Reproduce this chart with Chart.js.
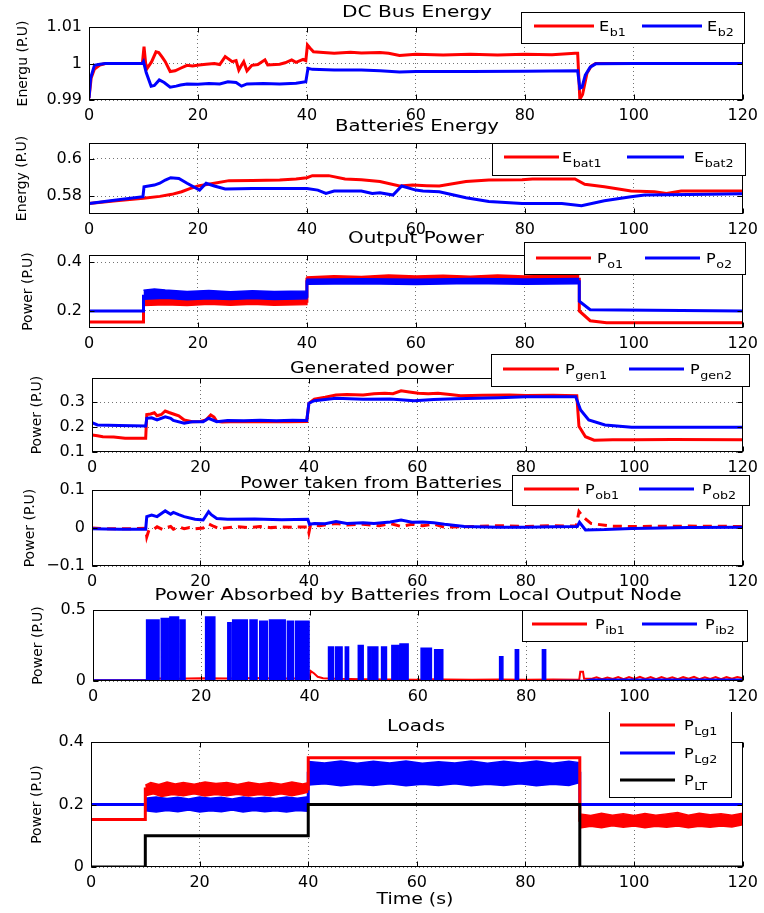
<!DOCTYPE html>
<html>
<head>
<meta charset="utf-8">
<script src="https://cdn.jsdelivr.net/npm/chart.js@4.4.1/dist/chart.umd.min.js"></script>
<style>
  body { margin: 0; background: #fff; }
  #wrap { position: relative; width: 764px; height: 913px; }
  #wrap canvas { position: absolute; left: 0; }
</style>
</head>
<body>
<div id="wrap"></div>
<script>
'use strict';

// ---- data: [time (s), value] ----
let xTicks = [0, 20, 40, 60, 80, 100, 120];
let xTickLabels = ['0', '20', '40', '60', '80', '100', '120'];

// DC bus energy
let eb1 = [[0,0.9905],[0.4,0.996],[1,0.9985],[2,0.9996],[3,1.0],[9.8,1.0],[10.1,1.0046],[10.4,1.0],[10.7,0.9987],[11.5,1.0005],[12.3,1.0032],[12.8,1.003],[13.4,1.0018],[14,1.0005],[14.9,0.9978],[15.8,0.998],[16.8,0.9987],[18,0.9995],[19,0.9993],[20.2,0.9996],[21.5,0.9998],[23,1.0],[24,0.9997],[25,1.0019],[26.3,1.0005],[27,1.0008],[27.5,0.9982],[28,0.9995],[28.4,1.0005],[29,0.998],[29.9,0.9995],[31,0.9997],[32.3,1.001],[32.8,0.9996],[35,0.9998],[36,1.0002],[37.2,1.001],[38,1.0003],[39.3,1.0011],[39.8,1.0008],[40.1,1.0051],[40.6,1.0042],[41.2,1.0032],[43,1.003],[45,1.0028],[48,1.0031],[50,1.0029],[53.4,1.003],[55,1.0028],[57,1.0022],[60,1.0025],[65,1.0023],[70,1.0025],[75,1.0023],[80,1.0025],[85,1.0024],[89.2,1.0028],[89.7,1.0028],[90.1,0.9902],[90.6,0.9915],[91.4,0.9973],[92.2,0.9993],[93,1.0],[100,1.0],[120,1.0]];
let eb2 = [[0,0.9905],[0.3,0.996],[1,0.9995],[2,0.9998],[3,1.0],[9.8,1.0],[10,1.0005],[10.5,0.9975],[11.4,0.9938],[12,0.994],[12.9,0.9955],[13.8,0.9948],[14.9,0.9935],[16,0.9938],[16.8,0.9941],[18,0.9944],[20,0.9943],[22,0.9945],[24,0.9944],[25.5,0.995],[27,0.9948],[28,0.9938],[29,0.9944],[32,0.9945],[35,0.9944],[38,0.9946],[39.8,0.995],[40.2,0.9987],[41,0.9984],[45,0.9982],[50,0.9982],[53.4,0.998],[57,0.9977],[60,0.9978],[70,0.9978],[80,0.9979],[89.7,0.998],[90.1,0.9932],[90.5,0.9935],[91.1,0.9968],[92,0.999],[93,0.9999],[100,1.0],[120,1.0]];

// batteries energy
let ebat1 = [[0,0.576],[5,0.5774],[10,0.5788],[13,0.5798],[15.2,0.5809],[17,0.5823],[18.5,0.584],[20,0.5854],[23,0.5869],[25.7,0.5883],[30,0.5884],[35,0.5886],[38,0.5892],[40,0.5899],[41,0.591],[44,0.591],[47,0.5892],[50,0.5888],[53.4,0.5878],[57,0.5854],[59.4,0.5859],[62,0.5856],[64.3,0.5854],[69.2,0.5878],[73.4,0.5886],[79.5,0.5888],[81.4,0.5892],[89.2,0.5892],[91,0.5863],[94.6,0.585],[99.5,0.5827],[103.8,0.5823],[106,0.5814],[108.7,0.5827],[120,0.5827]];
let ebat2 = [[0,0.576],[5,0.5778],[9.9,0.5796],[10.1,0.585],[12,0.5859],[13,0.5869],[14,0.5886],[15,0.5899],[16.5,0.5895],[18,0.5869],[20.3,0.5832],[21.5,0.5869],[23,0.5854],[25,0.5838],[30,0.5841],[35,0.5841],[40,0.5841],[42,0.5832],[43.5,0.5814],[45,0.5827],[50,0.5827],[52,0.5814],[53.4,0.5818],[55.8,0.5805],[57.4,0.5854],[60,0.5832],[61.3,0.5827],[64.3,0.5823],[69.2,0.5791],[73.4,0.577],[79.5,0.576],[86.8,0.576],[90.4,0.5748],[94.6,0.5774],[99.5,0.5796],[102,0.5805],[114,0.5809],[120,0.5812]];

// output power (line + noisy bands)
let po1 = [[0,0.155],[10,0.155],[10,0.24],[40,0.24],[40,0.33],[90,0.33],[90,0.2],[92,0.16],[95,0.152],[120,0.152]];
let po1Hi = [[10,0.262],[12,0.258],[14,0.264],[16,0.255],[18,0.252],[22,0.258],[26,0.254],[30,0.258],[34,0.255],[40,0.258],[40,0.34],[45,0.345],[50,0.342],[55,0.348],[60,0.344],[65,0.347],[70,0.343],[75,0.348],[80,0.344],[85,0.347],[90,0.345]];
let po1Lo = [[10,0.222],[14,0.226],[18,0.222],[22,0.228],[26,0.224],[30,0.228],[34,0.223],[40,0.226],[40,0.318],[45,0.322],[50,0.318],[55,0.324],[60,0.32],[65,0.323],[70,0.319],[75,0.324],[80,0.32],[85,0.323],[90,0.32]];
let po2 = [[0,0.2],[10,0.2],[10,0.26],[40,0.26],[40,0.32],[90,0.32],[90,0.24],[92,0.205],[120,0.2]];
let po2Hi = [[10,0.285],[12,0.29],[14,0.286],[16,0.283],[18,0.28],[22,0.284],[26,0.279],[30,0.283],[34,0.28],[40,0.282],[40,0.33],[50,0.332],[60,0.33],[70,0.333],[80,0.331],[90,0.333]];
let po2Lo = [[10,0.248],[14,0.252],[18,0.246],[22,0.25],[26,0.247],[30,0.251],[34,0.247],[40,0.25],[40,0.31],[50,0.312],[60,0.309],[70,0.313],[80,0.31],[90,0.312]];

// generated power
let pgen1 = [[0,0.168],[1,0.165],[2,0.161],[4,0.16],[6.1,0.155],[9.9,0.155],[10.1,0.25],[10.8,0.252],[11.5,0.257],[12,0.245],[12.8,0.25],[13.5,0.264],[14.2,0.258],[15,0.252],[16,0.245],[17,0.228],[18.5,0.221],[20,0.222],[21,0.228],[21.9,0.248],[22.5,0.24],[23,0.223],[24,0.22],[27,0.222],[30,0.221],[33,0.222],[36,0.221],[39.6,0.222],[40,0.295],[41,0.311],[43,0.319],[45,0.328],[47,0.33],[50,0.328],[52,0.333],[54,0.335],[55.5,0.333],[57,0.345],[58.5,0.34],[60.2,0.335],[62,0.333],[63.8,0.335],[66,0.33],[68,0.325],[72,0.327],[77,0.328],[80,0.326],[85,0.327],[89.4,0.325],[89.8,0.203],[91,0.161],[92.6,0.147],[96,0.149],[100,0.149],[107,0.15],[120,0.149]];
let pgen2 = [[0,0.217],[1,0.208],[5,0.206],[9.9,0.204],[10.1,0.235],[11,0.237],[12,0.228],[13.5,0.241],[14.5,0.235],[15,0.226],[17,0.215],[18.5,0.221],[20.5,0.221],[21.5,0.235],[23,0.221],[25,0.226],[28,0.225],[31,0.227],[34,0.225],[37,0.227],[39.6,0.226],[40,0.295],[41,0.305],[43,0.31],[45,0.315],[50,0.311],[55,0.312],[59.4,0.305],[63,0.31],[67,0.313],[71,0.315],[75,0.317],[80,0.321],[85,0.321],[89.2,0.321],[90.1,0.268],[91.6,0.228],[94.6,0.208],[99.5,0.199],[120,0.199]];

// power taken from batteries
let pob1 = [[0,0.0],[3,-0.002],[6,-0.002],[9.9,-0.001],[10.1,-0.023],[10.5,-0.005],[11.5,-0.002],[12,0.003],[13,-0.004],[13.5,0.0],[14.5,0.004],[15,-0.003],[16,0.003],[17,-0.002],[18,0.001],[19,-0.002],[20.5,0.0],[21.5,0.011],[22.5,0.004],[23.5,-0.002],[25,0.001],[27,0.003],[29,0.001],[31,0.004],[33,0.001],[35,0.003],[37,0.002],[39.8,0.003],[40,-0.012],[40.3,0.008],[42,0.006],[45,0.012],[47,0.008],[50,0.01],[53,0.006],[55,0.012],[57,0.004],[59,0.01],[61,0.006],[63,0.01],[65,0.002],[70,0.004],[75,0.006],[80,0.004],[85,0.006],[89.3,0.005],[89.8,0.043],[90.5,0.03],[92,0.012],[95.7,0.005],[100,0.004],[110,0.005],[120,0.004]];
let pob2 = [[0,-0.002],[5,-0.003],[9.9,-0.003],[10.1,0.03],[11,0.034],[12,0.03],[13,0.04],[13.5,0.045],[14.5,0.036],[15,0.041],[16,0.035],[17,0.03],[19,0.023],[20.5,0.021],[21.5,0.043],[22,0.035],[23,0.025],[25,0.023],[30,0.024],[35,0.022],[39.8,0.023],[40.1,0.01],[41,0.012],[43,0.011],[45,0.017],[47,0.012],[50,0.014],[52,0.012],[55,0.016],[57,0.021],[59,0.015],[61,0.016],[63,0.014],[65,0.01],[68.7,0.004],[75,0.002],[80,0.002],[85,0.003],[89.5,0.004],[89.9,0.015],[91,-0.005],[94.6,-0.004],[99.5,-0.001],[110,0.001],[120,0.002]];

// power absorbed by batteries: bursts of Pib2 [start, end, height]
let pib2Start = [9.9, 12.6, 14.2, 16.1, 20.8, 24.9, 25.8, 29.0, 30.8, 32.6, 35.9, 37.4, 43.5, 44.8, 46.6, 49.0, 50.8, 51.7, 53.3, 55.2, 56.7, 60.6, 63.1, 75.1, 78.0, 83.0];
let pib2End   = [12.2, 14.0, 15.8, 17.0, 22.5, 25.5, 28.5, 30.3, 32.2, 35.5, 37.0, 39.9, 44.4, 46.0, 47.2, 49.9, 51.5, 52.6, 54.2, 56.5, 58.2, 62.5, 64.6, 75.7, 78.6, 83.6];
let pib2Top   = [0.43, 0.44, 0.45, 0.43, 0.45, 0.41, 0.43, 0.43, 0.42, 0.43, 0.42, 0.42, 0.24, 0.24, 0.24, 0.25, 0.24, 0.24, 0.24, 0.25, 0.26, 0.23, 0.22, 0.17, 0.22, 0.22];
let pib1 = [[0,0.006],[9.9,0.006],[10,0.02],[15,0.016],[20,0.02],[25,0.017],[30,0.021],[35,0.018],[40,0.02],[40.2,0.07],[40.8,0.055],[41.5,0.03],[42.5,0.02],[45,0.015],[50,0.012],[55,0.01],[60,0.008],[63,0.012],[65,0.01],[70,0.008],[75,0.011],[80,0.009],[85,0.011],[89.8,0.009],[90,0.065],[90.5,0.065],[90.7,0.015],[92,0.015],[93,0.026],[94,0.012],[95,0.025],[96,0.014],[97,0.028],[98,0.013],[99,0.027],[100,0.015],[101,0.03],[102,0.014],[103,0.027],[104,0.013],[105,0.028],[106,0.015],[107,0.026],[108,0.012],[109,0.027],[110,0.016],[111,0.029],[112,0.013],[113,0.026],[114,0.015],[115,0.028],[116,0.012],[117,0.027],[118,0.016],[119,0.028],[120,0.02]];

// loads
let plt = [[0,0],[10,0],[10,0.1],[40,0.1],[40,0.2],[90,0.2],[90,0],[120,0]];
let plg1 = [[0,0.152],[10,0.152],[10,0.25],[40,0.25],[40,0.35],[90,0.35],[90,0.15],[120,0.15]];
let plg1HiA = [[10,0.262],[11,0.27],[12.5,0.264],[14,0.272],[15.5,0.266],[17,0.27],[19,0.265],[21,0.272],[23,0.267],[25,0.27],[27,0.264],[29,0.271],[31,0.266],[33,0.27],[35,0.265],[37,0.272],[39,0.266],[40,0.27]];
let plg1LoA = [[10,0.228],[11.5,0.234],[13,0.226],[15,0.232],[17,0.228],[19,0.234],[21,0.227],[23,0.232],[25,0.228],[27,0.233],[29,0.227],[31,0.232],[33,0.228],[35,0.234],[37,0.228],[39,0.235],[40,0.24]];
let plg1HiB = [[90,0.17],[92,0.165],[94,0.172],[96,0.166],[98,0.17],[100,0.165],[102,0.171],[104,0.166],[106,0.17],[108,0.174],[110,0.166],[112,0.172],[114,0.167],[116,0.17],[118,0.166],[120,0.172]];
let plg1LoB = [[90,0.125],[92,0.13],[94,0.126],[96,0.132],[98,0.127],[100,0.131],[102,0.126],[104,0.13],[106,0.127],[108,0.131],[110,0.126],[112,0.13],[114,0.127],[116,0.131],[118,0.128],[120,0.135]];
let plg2 = [[0,0.2],[10,0.2],[40,0.2],[40,0.3],[90,0.3],[90,0.2],[120,0.2]];
let plg2HiA = [[10,0.22],[12,0.224],[14,0.219],[16,0.223],[18,0.218],[20,0.224],[22,0.22],[24,0.223],[26,0.218],[28,0.224],[30,0.22],[32,0.223],[34,0.219],[36,0.224],[38,0.22],[40,0.225]];
let plg2LoA = [[10,0.18],[12,0.176],[14,0.181],[16,0.177],[18,0.182],[20,0.176],[22,0.18],[24,0.177],[26,0.182],[28,0.176],[30,0.181],[32,0.177],[34,0.18],[36,0.176],[38,0.181],[40,0.178]];
let plg2HiB = [[40,0.338],[43,0.333],[46,0.339],[49,0.332],[52,0.338],[55,0.333],[58,0.339],[61,0.332],[64,0.337],[67,0.333],[70,0.339],[73,0.332],[76,0.338],[79,0.333],[82,0.339],[85,0.332],[88,0.338],[90,0.334]];
let plg2LoB = [[40,0.262],[43,0.266],[46,0.26],[49,0.265],[52,0.261],[55,0.266],[58,0.26],[61,0.265],[64,0.261],[67,0.266],[70,0.26],[73,0.265],[76,0.261],[79,0.266],[82,0.26],[85,0.265],[88,0.261],[90,0.27]];

const W = 764;
const RED = '#ff0000';
const BLUE = '#0000ff';
const BLACK = '#000000';
const FONT = '"DejaVu Sans", sans-serif';

function line(data, color, extra) {
  return Object.assign({data: data, borderColor: color, backgroundColor: color,
    borderWidth: 3, pointRadius: 0, tension: 0, fill: false}, extra || {});
}

// a noisy band drawn as the area between its upper and lower edge
function band(hi, lo, color) {
  return [
    line(hi, color, {borderWidth: 1.5, fill: '+1'}),
    line(lo, color, {borderWidth: 1.5})
  ];
}

function burstData(start, end, top) {
  let pts = [[0, 0.007], [9.8, 0.007]];
  for (let i = 0; i < start.length; i++) {
    pts.push([start[i], 0.002], [start[i], top[i]], [end[i], top[i]], [end[i], 0.002]);
  }
  pts.push([91, 0.006], [92, 0.012], [120, 0.012]);
  return pts;
}

function stretchText(ctx, text, cx, y, size, width) {
  ctx.save();
  ctx.font = size + 'px ' + FONT;
  let w = ctx.measureText(text).width;
  ctx.translate(cx, y);
  ctx.scale(width / w, 1);
  ctx.textAlign = 'center';
  ctx.textBaseline = 'alphabetic';
  ctx.fillStyle = '#000';
  ctx.fillText(text, 0, 0);
  ctx.restore();
}

function legendText(ctx, x, y, main, sub) {
  ctx.save();
  ctx.fillStyle = '#000';
  ctx.textAlign = 'left';
  ctx.textBaseline = 'alphabetic';
  ctx.translate(x, y);
  ctx.scale(1.15, 1);
  ctx.font = '14px ' + FONT;
  ctx.fillText(main, 0, 5);
  let w = ctx.measureText(main).width;
  ctx.font = '11px ' + FONT;
  ctx.fillText(sub, w + 0.5, 10);
  ctx.restore();
}

function drawDeco(chart, p, oy) {
  let ctx = chart.ctx;
  let a = chart.chartArea;
  ctx.save();
  // box and inward ticks
  ctx.strokeStyle = '#000';
  ctx.lineWidth = 1;
  let l = Math.round(a.left) + 0.5, r = Math.round(a.right) - 0.5;
  let t = Math.round(a.top) + 0.5, b = Math.round(a.bottom) - 0.5;
  ctx.strokeRect(l, t, r - l, b - t);
  ctx.beginPath();
  chart.scales.x.ticks.forEach(tk => {
    let px = Math.round(chart.scales.x.getPixelForValue(tk.value)) + 0.5;
    ctx.moveTo(px, b); ctx.lineTo(px, b - 5);
    ctx.moveTo(px, t); ctx.lineTo(px, t + 5);
  });
  chart.scales.y.ticks.forEach(tk => {
    let py = Math.round(chart.scales.y.getPixelForValue(tk.value)) + 0.5;
    ctx.moveTo(l, py); ctx.lineTo(l + 5, py);
    ctx.moveTo(r, py); ctx.lineTo(r - 5, py);
  });
  ctx.stroke();

  // title
  stretchText(ctx, p.title[0], p.title[1], p.title[2] - oy, 15, p.title[3]);
  if (p.xlabel) stretchText(ctx, p.xlabel[0], p.xlabel[1], p.xlabel[2] - oy, 15, p.xlabel[3]);

  // y label
  ctx.save();
  ctx.translate(p.ylx, (a.top + a.bottom) / 2);
  ctx.rotate(-Math.PI / 2);
  ctx.font = '14px ' + FONT;
  ctx.textAlign = 'center';
  ctx.textBaseline = 'middle';
  ctx.fillStyle = '#000';
  ctx.fillText(p.ylabel, 0, 0);
  ctx.restore();

  // legend
  let lg = p.legend;
  ctx.fillStyle = '#fff';
  ctx.fillRect(lg.box[0], lg.box[1] - oy, lg.box[2] - lg.box[0], lg.box[3] - lg.box[1]);
  ctx.strokeStyle = '#000';
  ctx.lineWidth = 1;
  ctx.strokeRect(lg.box[0] + 0.5, lg.box[1] - oy + 0.5, lg.box[2] - lg.box[0], lg.box[3] - lg.box[1]);
  lg.items.forEach(it => {
    ctx.strokeStyle = it.color;
    ctx.lineWidth = 3;
    ctx.beginPath();
    ctx.moveTo(it.x0, it.y - oy);
    ctx.lineTo(it.x1, it.y - oy);
    ctx.stroke();
    legendText(ctx, it.tx, it.y - oy, it.main, it.sub);
  });
  ctx.restore();
}

function makePanel(p) {
  let padTop = 30;
  let xh = p.xh || 26;
  let cv = document.createElement('canvas');
  cv.width = W;
  cv.height = padTop + (p.bottom - p.top) + xh;
  cv.style.top = (p.top - padTop) + 'px';
  document.getElementById('wrap').appendChild(cv);
  let oy = p.top - padTop;
  let grid = {color: 'rgba(0,0,0,0.55)', lineWidth: 1, drawTicks: false};
  let border = {display: false, dash: [1, 3]};
  let tickFont = {family: 'DejaVu Sans', size: 16};
  new Chart(cv, {
    type: 'line',
    data: {datasets: p.datasets},
    options: {
      responsive: false,
      animation: false,
      devicePixelRatio: 1,
      layout: {padding: {left: 0, right: W - p.right, top: padTop, bottom: 0}},
      plugins: {legend: {display: false}, tooltip: {enabled: false}},
      scales: {
        x: {
          type: 'linear', min: 0, max: 120,
          afterBuildTicks: s => { s.ticks = xTicks.map(v => ({value: v})); },
          afterFit: s => { s.height = xh; },
          grid: grid, border: border,
          ticks: {font: tickFont, color: '#000', padding: 6, maxRotation: 0, autoSkip: false,
            callback: (v, i) => xTickLabels[i]}
        },
        y: {
          type: 'linear', min: p.yMin, max: p.yMax,
          afterBuildTicks: s => { s.ticks = p.yTicks.map(v => ({value: v})); },
          afterFit: s => { s.width = p.left; },
          grid: grid, border: border,
          ticks: {font: tickFont, color: '#000', padding: 7, autoSkip: false,
            callback: (v, i) => p.yTickLabels[i]}
        }
      }
    },
    plugins: [{id: 'deco', afterDraw: chart => drawDeco(chart, p, oy)}]
  });
}

function item(color, x0, x1, y, tx, main, sub) {
  return {color: color, x0: x0, x1: x1, y: y, tx: tx, main: main, sub: sub};
}

let panels = [
  {top: 27, bottom: 100, left: 89, right: 747, yMin: 0.99, yMax: 1.01,
    yTicks: [0.99, 1, 1.01], yTickLabels: ['0.99', '1', '1.01'],
    ylabel: 'Energu (P.U)', ylx: 23, title: ['DC Bus Energy', 417, 17, 150],
    datasets: [line(eb2, BLUE), line(eb1, RED)],
    legend: {box: [521, 12, 744, 43], items: [item(RED, 534, 594, 26, 599, 'E', 'b1'), item(BLUE, 642, 702, 26, 707, 'E', 'b2')]}},
  {top: 143, bottom: 214, left: 89, right: 747, yMin: 0.5703, yMax: 0.6086,
    yTicks: [0.58, 0.6], yTickLabels: ['0.58', '0.6'],
    ylabel: 'Energy (P.U)', ylx: 22, title: ['Batteries Energy', 417, 131, 164],
    datasets: [line(ebat2, BLUE), line(ebat1, RED)],
    legend: {box: [492, 143, 745, 175], items: [item(RED, 504, 559, 157, 562, 'E', 'bat1'), item(BLUE, 627, 684, 157, 694, 'E', 'bat2')]}},
  {top: 255, bottom: 328, left: 89, right: 747, yMin: 0.13, yMax: 0.43,
    yTicks: [0.2, 0.4], yTickLabels: ['0.2', '0.4'],
    ylabel: 'Power (P.U)', ylx: 28, title: ['Output Power', 416, 243, 136],
    datasets: [].concat(band(po2Hi, po2Lo, BLUE), [line(po2, BLUE)], band(po1Hi, po1Lo, RED), [line(po1, RED)]),
    legend: {box: [524, 242, 745, 274], items: [item(RED, 536, 591, 258, 597, 'P', 'o1'), item(BLUE, 645, 700, 258, 706, 'P', 'o2')]}},
  {top: 378, bottom: 452, left: 92, right: 749, yMin: 0.1, yMax: 0.396,
    yTicks: [0.1, 0.2, 0.3], yTickLabels: ['0.1', '0.2', '0.3'],
    ylabel: 'Power (P.U)', ylx: 37, title: ['Generated power', 372, 372.5, 164],
    datasets: [line(pgen2, BLUE), line(pgen1, RED)],
    legend: {box: [491, 354, 749, 386], items: [item(RED, 503, 559, 369, 565, 'P', 'gen1'), item(BLUE, 629, 684, 369, 690, 'P', 'gen2')]}},
  {top: 490, bottom: 566, left: 92, right: 749, yMin: -0.1, yMax: 0.1,
    yTicks: [-0.1, 0, 0.1], yTickLabels: ['\u22120.1', '0', '0.1'],
    ylabel: 'Power (P.U)', ylx: 30, title: ['Power taken from Batteries', 371, 488, 262],
    datasets: [line(pob2, BLUE), line(pob1, RED, {borderDash: [9, 6]})],
    legend: {box: [512, 475, 749, 505], items: [item(RED, 524, 579, 489, 585, 'P', 'ob1'), item(BLUE, 639, 694, 489, 702, 'P', 'ob2')]}},
  {top: 610, bottom: 681, left: 93, right: 748, yMin: 0, yMax: 0.5,
    yTicks: [0, 0.5], yTickLabels: ['0', '0.5'],
    ylabel: 'Power (P.U)', ylx: 38, title: ['Power Absorbed by Batteries from Local Output Node', 418, 600, 527],
    datasets: [line(burstData(pib2Start, pib2End, pib2Top), BLUE, {borderWidth: 1.5, fill: 'origin'}), line(pib1, RED, {borderWidth: 2})],
    legend: {box: [522, 610, 747, 641], items: [item(RED, 532, 587, 624, 595, 'P', 'ib1'), item(BLUE, 642, 697, 624, 705, 'P', 'ib2')]}},
  {top: 742, bottom: 867, left: 91, right: 745, yMin: 0, yMax: 0.4, xh: 46,
    yTicks: [0, 0.2, 0.4], yTickLabels: ['0', '0.2', '0.4'],
    ylabel: 'Power (P.U)', ylx: 37, title: ['Loads', 416, 730.5, 58], xlabel: ['Time (s)', 415, 904, 77],
    datasets: [].concat([line(plt, BLACK)], band(plg1HiA, plg1LoA, RED), band(plg1HiB, plg1LoB, RED), [line(plg1, RED)],
      band(plg2HiA, plg2LoA, BLUE), band(plg2HiB, plg2LoB, BLUE), [line(plg2, BLUE)]),
    legend: {box: [609, 710, 731, 797], items: [item(RED, 620, 675, 725, 684, 'P', 'Lg1'), item(BLUE, 620, 675, 753, 684, 'P', 'Lg2'), item(BLACK, 620, 675, 780, 684, 'P', 'LT')]}}
];

panels.forEach(makePanel);
</script>
</body>
</html>
